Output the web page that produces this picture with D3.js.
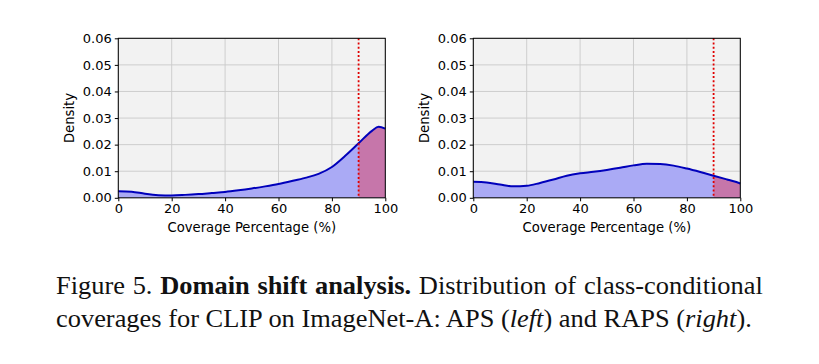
<!DOCTYPE html>
<html>
<head>
<meta charset="utf-8">
<script src="https://cdn.jsdelivr.net/npm/d3@7"></script>
<style>
  body { margin: 0; background: #fff; }
  svg { display: block; }
</style>
</head>
<body>
<div id="chart"></div>
<script>
// coverage grid (%) shared by both density curves
const coverage = [0, 5, 10, 15, 20, 25, 30, 35, 40, 45, 50, 55, 60, 65, 70, 75, 80, 85, 90, 95, 97.5, 100];
// APS (left) density
const apsDensity = [0.0025, 0.0023, 0.0015, 0.0010, 0.0009, 0.0011, 0.0014, 0.0018, 0.0022, 0.0028, 0.0035, 0.0043, 0.0052, 0.0063, 0.0075, 0.0090, 0.0116, 0.0158, 0.0205, 0.0252, 0.0267, 0.0260];
// RAPS (right) density
const rapsDensity = [0.0060, 0.0058, 0.0050, 0.0043, 0.0045, 0.0056, 0.0069, 0.0083, 0.0092, 0.0098, 0.0105, 0.0113, 0.0122, 0.0128, 0.0127, 0.0121, 0.0110, 0.0097, 0.0083, 0.0069, 0.0062, 0.0054];
const xTicks = [0, 20, 40, 60, 80, 100];
const yTicks = [0, 0.01, 0.02, 0.03, 0.04, 0.05, 0.06];
const target = 90;
const captionLine1 = ["Figure 5. ", "Domain shift analysis.", " Distribution of class-conditional"];
const captionLine2 = ["coverages for CLIP on ImageNet-A: APS (", "left", ") and RAPS (", "right", ")."];

const width = 819, height = 364;
const svg = d3.select('#chart').append('svg')
  .attr('width', width)
  .attr('height', height);

const panelW = 267, panelH = 159.5;
const panels = [
  { left: 118.3, top: 38.3, values: apsDensity, id: 'a' },
  { left: 473.3, top: 38.3, values: rapsDensity, id: 'b' }
];

panels.forEach(function(p) {
  const x = d3.scaleLinear().domain([0, 100]).range([0, panelW]);
  const y = d3.scaleLinear().domain([0, 0.06]).range([panelH, 0]);
  const pts = coverage.map((c, i) => ({ c: c, d: p.values[i] }));

  const g = svg.append('g').attr('transform', `translate(${p.left},${p.top})`);

  g.append('rect').attr('width', panelW).attr('height', panelH).attr('fill', '#f2f2f2');

  // grid
  g.selectAll('.gx').data(xTicks).enter().append('line')
    .attr('x1', d => x(d)).attr('x2', d => x(d))
    .attr('y1', 0).attr('y2', panelH)
    .attr('stroke', '#c9c9c9').attr('stroke-width', 0.9);
  g.selectAll('.gy').data(yTicks).enter().append('line')
    .attr('y1', d => y(d)).attr('y2', d => y(d))
    .attr('x1', 0).attr('x2', panelW)
    .attr('stroke', '#c9c9c9').attr('stroke-width', 0.9);

  const area = d3.area().x(d => x(d.c)).y0(y(0)).y1(d => y(d.d)).curve(d3.curveMonotoneX);
  const line = d3.line().x(d => x(d.c)).y(d => y(d.d)).curve(d3.curveMonotoneX);

  g.append('path').datum(pts).attr('d', area).attr('fill', 'rgb(170,170,245)');

  // region beyond target coverage
  g.append('clipPath').attr('id', 'clip' + p.id).append('rect')
    .attr('x', x(target)).attr('y', 0).attr('width', x(100) - x(target)).attr('height', panelH);
  g.append('path').datum(pts).attr('d', area)
    .attr('clip-path', `url(#clip${p.id})`)
    .attr('fill', 'rgb(198,118,170)');

  g.append('path').datum(pts).attr('d', line)
    .attr('fill', 'none').attr('stroke', '#0000bb').attr('stroke-width', 2);

  g.append('line')
    .attr('x1', x(target)).attr('x2', x(target)).attr('y1', 0).attr('y2', panelH)
    .attr('stroke', '#e00000').attr('stroke-width', 1.8).attr('stroke-dasharray', '2,2.2');

  g.append('rect').attr('width', panelW).attr('height', panelH)
    .attr('fill', 'none').attr('stroke', '#000').attr('stroke-width', 1);

  const xAxis = g.append('g').attr('transform', `translate(0,${panelH})`)
    .call(d3.axisBottom(x).tickValues(xTicks).tickSize(3.5).tickPadding(2).tickFormat(d3.format('d')));
  const yAxis = g.append('g')
    .call(d3.axisLeft(y).tickValues(yTicks).tickSize(3.5).tickPadding(3).tickFormat(d3.format('.2f')));
  [xAxis, yAxis].forEach(function(a) {
    a.select('.domain').remove();
    a.selectAll('text').attr('font-family', 'DejaVu Sans').attr('font-size', 13).attr('fill', '#000');
    a.selectAll('line').attr('stroke', '#000');
  });

  g.append('text')
    .attr('x', panelW / 2).attr('y', panelH + 34)
    .attr('text-anchor', 'middle')
    .attr('font-family', 'DejaVu Sans').attr('font-size', 13.2)
    .text('Coverage Percentage (%)');
  g.append('text')
    .attr('transform', `translate(-44,${panelH / 2}) rotate(-90)`)
    .attr('text-anchor', 'middle')
    .attr('font-family', 'DejaVu Sans').attr('font-size', 13.2)
    .text('Density');
});

// caption: justified first line, natural last line, slightly wide face
const capLeft = 56, line1Right = 763, line2Right = 752;
const capG = svg.append('g');
const cap = capG.append('text')
  .attr('font-family', 'Liberation Serif').attr('font-size', 24.5).attr('fill', '#111');
const l1 = cap.append('tspan').attr('x', 0).attr('y', 294);
captionLine1.forEach(function(s, i) {
  l1.append('tspan').attr('font-weight', i === 1 ? 'bold' : null).text(s);
});
const l2 = cap.append('tspan').attr('x', 0).attr('y', 327);
captionLine2.forEach(function(s, i) {
  l2.append('tspan').attr('font-style', (i === 1 || i === 3) ? 'italic' : null).text(s);
});

const w2 = l2.node().getComputedTextLength();
const sx = (line2Right - capLeft) / w2;
const w1 = l1.node().getComputedTextLength();
const spaces = captionLine1.join('').split(' ').length - 1;
const extra = ((line1Right - capLeft) / sx - w1) / spaces;
l1.attr('word-spacing', extra);
capG.attr('transform', `translate(${capLeft},0) scale(${sx},1)`);
</script>
</body>
</html>
